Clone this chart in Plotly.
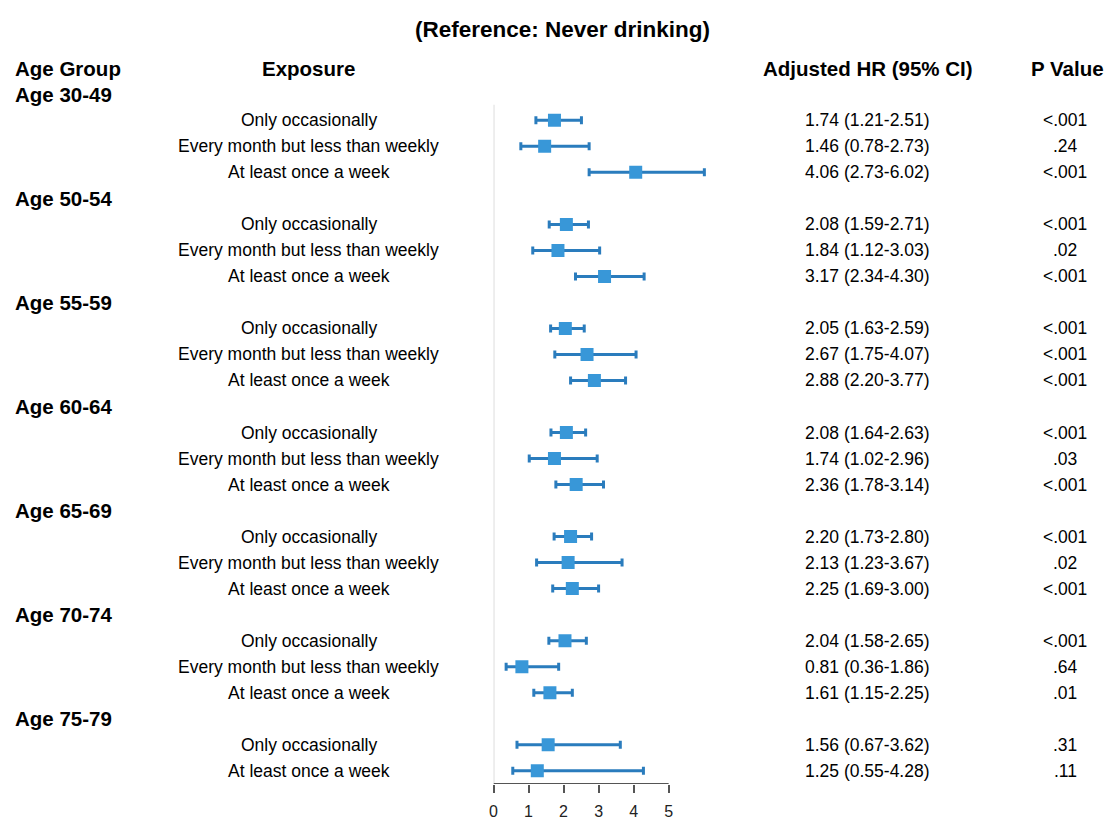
import plotly.graph_objects as go

groups = ["Age 30-49", "Age 50-54", "Age 55-59", "Age 60-64", "Age 65-69", "Age 70-74", "Age 75-79"]
exposures = [
    ["Only occasionally", "Every month but less than weekly", "At least once a week"],
    ["Only occasionally", "Every month but less than weekly", "At least once a week"],
    ["Only occasionally", "Every month but less than weekly", "At least once a week"],
    ["Only occasionally", "Every month but less than weekly", "At least once a week"],
    ["Only occasionally", "Every month but less than weekly", "At least once a week"],
    ["Only occasionally", "Every month but less than weekly", "At least once a week"],
    ["Only occasionally", "At least once a week"],
]
hr = [
    [1.74, 1.46, 4.06],
    [2.08, 1.84, 3.17],
    [2.05, 2.67, 2.88],
    [2.08, 1.74, 2.36],
    [2.20, 2.13, 2.25],
    [2.04, 0.81, 1.61],
    [1.56, 1.25],
]
lo = [
    [1.21, 0.78, 2.73],
    [1.59, 1.12, 2.34],
    [1.63, 1.75, 2.20],
    [1.64, 1.02, 1.78],
    [1.73, 1.23, 1.69],
    [1.58, 0.36, 1.15],
    [0.67, 0.55],
]
hi = [
    [2.51, 2.73, 6.02],
    [2.71, 3.03, 4.30],
    [2.59, 4.07, 3.77],
    [2.63, 2.96, 3.14],
    [2.80, 3.67, 3.00],
    [2.65, 1.86, 2.25],
    [3.62, 4.28],
]
pvals = [
    ["<.001", ".24", "<.001"],
    ["<.001", ".02", "<.001"],
    ["<.001", "<.001", "<.001"],
    ["<.001", ".03", "<.001"],
    ["<.001", ".02", "<.001"],
    ["<.001", ".64", ".01"],
    [".31", ".11"],
]
x_ticks = [0, 1, 2, 3, 4, 5]

W, H = 1107, 820
FONT = "Liberation Sans, Arial, sans-serif"
REG = 17.5
BOLD = 20.5

# layout in screen pixels
x0_px = 491.3
px_per_unit = 35.15
dom_right_px = 740
row0_px = 68.5
row_h = 26.1
bottom_px = 786.5

xr_max = (dom_right_px - x0_px) / px_per_unit
y_top = (0 - row0_px) / row_h
y_bot = (bottom_px - row0_px) / row_h

fig = go.Figure()
annotations = []

def ann(text, xpx, yrow, size=REG, bold=False, anchor="center"):
    annotations.append(dict(
        text=f"<b>{text}</b>" if bold else text,
        x=xpx / W, xref="paper", y=yrow, yref="y",
        xanchor=anchor, yanchor="middle", showarrow=False,
        font=dict(family=FONT, size=size, color="#000000"),
    ))

ann("(Reference: Never drinking)", 561, -1.5, size=22.5, bold=True)
ann("Age Group", 9, 0, size=BOLD, bold=True, anchor="left")
ann("Exposure", 306, 0, size=BOLD, bold=True)
ann("Adjusted HR (95% CI)", 867, 0, size=BOLD, bold=True)
ann("P Value", 1067, 0, size=BOLD, bold=True)

ys, xs, ep, em = [], [], [], []
row = 1
for g, exps, h, l, u, p in zip(groups, exposures, hr, lo, hi, pvals):
    ann(g, 9, row, size=BOLD, bold=True, anchor="left")
    row += 1
    for e, hh, ll, uu, pp in zip(exps, h, l, u, p):
        ann(e, 306, row)
        ann(f"{hh:.2f} ({ll:.2f}-{uu:.2f})", 867, row)
        ann(pp, 1065, row)
        ys.append(row)
        xs.append(hh)
        ep.append(uu - hh)
        em.append(hh - ll)
        row += 1

fig.add_trace(go.Scatter(
    x=xs, y=ys, mode="markers",
    marker=dict(symbol="square", size=13, color="#3897d8", line=dict(width=0)),
    error_x=dict(type="data", symmetric=False, array=ep, arrayminus=em,
                 color="#2a7cbd", thickness=3, width=4),
    showlegend=False, hoverinfo="skip",
))

# reference line at 0
fig.add_shape(type="line", x0=0, x1=0, y0=1.4, y1=y_bot, xref="x", yref="y",
              line=dict(color="#dddddd", width=2), layer="below")
# axis line from 0 to 5
fig.add_shape(type="line", x0=x_ticks[0], x1=x_ticks[-1], y0=y_bot, y1=y_bot, xref="x", yref="y",
              line=dict(color="#555555", width=2))

fig.update_layout(
    width=W, height=H,
    margin=dict(l=0, r=0, t=0, b=H - bottom_px),
    paper_bgcolor="white", plot_bgcolor="white",
    annotations=annotations,
    showlegend=False,
    xaxis=dict(
        domain=[x0_px / W, dom_right_px / W], range=[0, xr_max], visible=True,
        showgrid=False, zeroline=False, showline=False,
        tickvals=x_ticks, ticktext=[str(t) for t in x_ticks],
        ticks="outside", ticklen=8, tickwidth=2, tickcolor="#555555",
        ticklabelstandoff=5,
        tickfont=dict(family=FONT, size=16, color="#222222"),
        fixedrange=True,
    ),
    yaxis=dict(range=[y_bot, y_top], visible=False, fixedrange=True),
)

fig.write_html(
    "out.html",
    config={"displayModeBar": False, "staticPlot": True},
    post_script="document.body.style.margin='0';document.body.style.overflow='hidden';",
)
